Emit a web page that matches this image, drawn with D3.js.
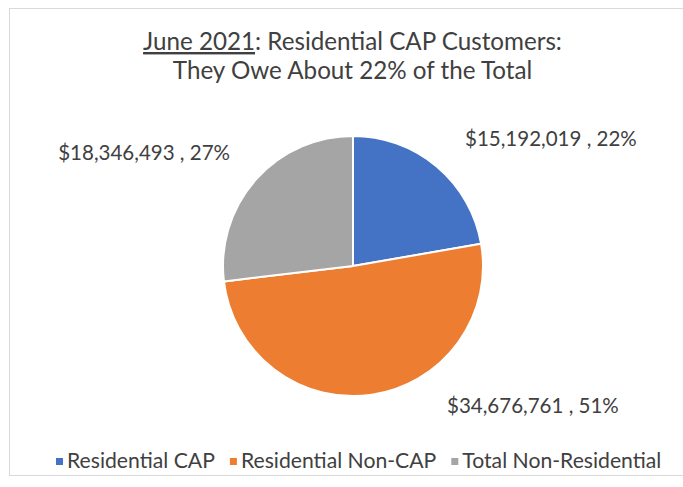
<!DOCTYPE html>
<html>
<head>
<meta charset="utf-8">
<script src="https://cdn.jsdelivr.net/npm/d3@7"></script>
<style>
  html, body { margin: 0; padding: 0; background: #fff; }
  svg { display: block; }
  text { font-family: Lato, "Open Sans", sans-serif; fill: #404040; }
</style>
</head>
<body>
<svg id="chart" width="683" height="487"></svg>
<script>
// Balances owed, June 2021
const categories = ["Residential CAP", "Residential Non-CAP", "Total Non-Residential"];
const amounts = [15192019, 34676761, 18346493];
const colors = ["#4472C4", "#ED7D31", "#A5A5A5"];
const titleLines = ["Residential CAP Customers:", "They Owe About 22% of the Total"];
const titlePrefix = "June 2021";

const W = 683, H = 487;
const svg = d3.select("#chart");

// chart frame
svg.append("rect")
  .attr("x", 9.5).attr("y", 8.5)
  .attr("width", 690).attr("height", 467)
  .attr("fill", "#fff")
  .attr("stroke", "#d9d9d9").attr("stroke-width", 1);

// scale a text element's font so that it spans a given width
function fit(sel, width) {
  const node = sel.node();
  const fs = parseFloat(sel.attr("font-size"));
  const w = node.getComputedTextLength();
  const nfs = fs * width / w;
  sel.attr("font-size", nfs);
  return nfs;
}

// title
const cxTitle = 352.5;
const t1 = svg.append("text")
  .attr("x", cxTitle).attr("y", 50)
  .attr("text-anchor", "middle")
  .attr("font-size", 20);
t1.append("tspan").attr("text-decoration", "underline").text(titlePrefix);
t1.append("tspan").text(": " + titleLines[0]);
const titleFs = fit(t1, 419);
svg.append("text")
  .attr("x", cxTitle).attr("y", 79)
  .attr("text-anchor", "middle")
  .attr("font-size", titleFs)
  .text(titleLines[1]);

// pie
const cx = 353, cy = 266, r = 130;
const total = d3.sum(amounts);
const pie = d3.pie().sort(null).value(d => d)(amounts);
const arc = d3.arc().innerRadius(0).outerRadius(r);
const g = svg.append("g").attr("transform", `translate(${cx},${cy})`);
g.selectAll("path.slice")
  .data(pie)
  .join("path")
  .attr("class", "slice")
  .attr("d", arc)
  .attr("fill", (d, i) => colors[i])
  .attr("stroke", "#fff")
  .attr("stroke-width", 2)
  .attr("stroke-linejoin", "round");

// data labels (offsets from the pie centre)
const labelPos = [
  { dx: 112, dy: -120, anchor: "start" },
  { dx: 94, dy: 147, anchor: "start" },
  { dx: -123, dy: -106, anchor: "end" }
];
const fmt = d3.format(",");
const labelText = (d, i) => `$${fmt(amounts[i])} , ${Math.round(amounts[i] / total * 100)}%`;
const probe = svg.append("text").attr("font-size", 18).text(labelText(null, 0));
const labelFs = fit(probe, 172);
probe.remove();
g.selectAll("text.lbl")
  .data(pie)
  .join("text")
  .attr("class", "lbl")
  .attr("x", (d, i) => labelPos[i].dx)
  .attr("y", (d, i) => labelPos[i].dy)
  .attr("text-anchor", (d, i) => labelPos[i].anchor)
  .attr("font-size", labelFs)
  .text(labelText);

// legend
const legend = svg.append("g");
const probe2 = svg.append("text").attr("font-size", 18).text(categories[0]);
const legFs = fit(probe2, 148);
probe2.remove();
let lx = 56;
categories.forEach((c, i) => {
  legend.append("rect")
    .attr("x", lx).attr("y", 458)
    .attr("width", 7).attr("height", 7)
    .attr("fill", colors[i]);
  const t = legend.append("text")
    .attr("x", lx + 11).attr("y", 468)
    .attr("font-size", legFs)
    .text(c);
  lx += 11 + t.node().getComputedTextLength() + 15;
});
</script>
</body>
</html>
